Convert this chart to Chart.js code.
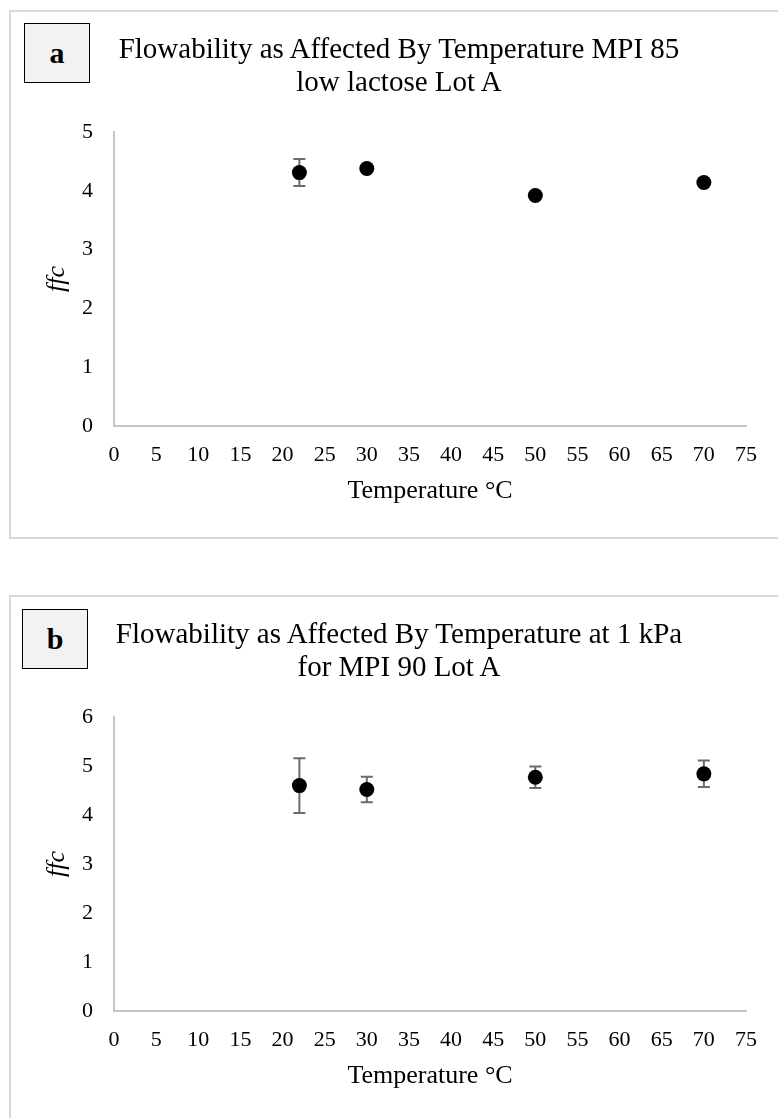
<!DOCTYPE html>
<html>
<head>
<meta charset="utf-8">
<script src="https://cdn.jsdelivr.net/npm/chart.js@4.4.1/dist/chart.umd.min.js"></script>
<style>
  html, body { margin: 0; padding: 0; background: #fff; width: 778px; height: 1118px; overflow: hidden; }
  body { position: relative; font-family: "Liberation Serif", "Times New Roman", serif; color: #000; }
  .panel { position: absolute; left: 9px; width: 820px; border: 2px solid #d9d9d9; box-sizing: border-box; }
  .tag { position: absolute; width: 66px; height: 60px; box-sizing: border-box; border: 1.5px solid #000;
         background: #f2f2f2; font-weight: bold; font-size: 30px; display: flex; align-items: center; justify-content: center; }
  .title { position: absolute; left: 49px; width: 700px; text-align: center; font-size: 29px; line-height: 33px; white-space: nowrap; }
  canvas { position: absolute; left: 0; }
</style>
</head>
<body>
<div class="panel" style="top:10px;height:529px;"></div>
<div class="panel" style="top:595px;height:560px;"></div>

<canvas id="chartA" width="778" height="585" style="top:0px;"></canvas>
<canvas id="chartB" width="778" height="585" style="top:585px;"></canvas>

<div class="tag" style="left:24px;top:23px;">a</div>
<div class="title" style="top:32px;">Flowability as Affected By Temperature MPI 85<br>low lactose Lot A</div>

<div class="tag" style="left:22px;top:609px;">b</div>
<div class="title" style="top:617px;">Flowability as Affected By Temperature at 1 kPa<br>for MPI 90 Lot A</div>

<script>
// Panel a: MPI 85 low lactose Lot A
const tempA = [22, 30, 50, 70];
const ffcA = [4.31, 4.38, 3.92, 4.14];
const errA = [0.23, 0, 0, 0];

// Panel b: MPI 90 Lot A at 1 kPa
const tempB = [22, 30, 50, 70];
const ffcB = [4.60, 4.52, 4.77, 4.84];
const errB = [0.56, 0.26, 0.22, 0.27];

const xMax = 75;
const xStep = 5;
const yMaxA = 5;
const yMaxB = 6;

const serif = '"Liberation Serif", "Times New Roman", serif';

// error bars drawn under the markers
const errorBars = {
    id: 'errorBars',
    beforeDatasetsDraw(chart, args, opts) {
        const { ctx, scales: { x, y } } = chart;
        const errs = opts.errors || [];
        ctx.save();
        ctx.strokeStyle = '#6b6b6b';
        ctx.lineWidth = 2;
        chart.data.datasets[0].data.forEach((p, i) => {
            const e = errs[i];
            if (!e) return;
            const px = x.getPixelForValue(p.x);
            const top = y.getPixelForValue(p.y + e);
            const bot = y.getPixelForValue(p.y - e);
            ctx.beginPath();
            ctx.moveTo(px, top); ctx.lineTo(px, bot);
            ctx.moveTo(px - 6, top); ctx.lineTo(px + 6, top);
            ctx.moveTo(px - 6, bot); ctx.lineTo(px + 6, bot);
            ctx.stroke();
        });
        ctx.restore();
    }
};

function makePanel(id, temps, values, errors, yMax) {
    const ctx = document.getElementById(id).getContext('2d');
    return new Chart(ctx, {
        type: 'scatter',
        data: {
            datasets: [{
                data: temps.map((t, i) => ({ x: t, y: values[i] })),
                pointRadius: 7.5,
                pointBackgroundColor: '#000',
                pointBorderWidth: 0,
                showLine: false
            }]
        },
        options: {
            responsive: false,
            animation: false,
            layout: { padding: { left: 0, top: 132, right: 32, bottom: 69 } },
            plugins: {
                legend: { display: false },
                tooltip: { enabled: false },
                errorBars: { errors: errors }
            },
            scales: {
                x: {
                    type: 'linear',
                    min: 0,
                    max: xMax,
                    afterFit: (s) => { s.height = 90; },
                    grid: { display: false, drawTicks: false },
                    border: { display: true, color: '#c6c6c6', width: 2 },
                    ticks: { stepSize: xStep, padding: 16, color: '#000', font: { family: serif, size: 22 } },
                    title: { display: true, text: 'Temperature °C', color: '#000', padding: { top: 0, bottom: 9 },
                             font: { family: serif, size: 26 } }
                },
                y: {
                    min: 0,
                    max: yMax,
                    afterFit: (s) => { s.width = 114; },
                    grid: { display: false, drawTicks: false },
                    border: { display: true, color: '#c6c6c6', width: 2 },
                    ticks: { stepSize: 1, padding: 21, color: '#000', font: { family: serif, size: 22 } },
                    title: { display: true, text: 'ffc', color: '#000', padding: { top: 42, bottom: 0 },
                             font: { family: serif, size: 26, style: 'italic' } }
                }
            }
        },
        plugins: [errorBars]
    });
}

makePanel('chartA', tempA, ffcA, errA, yMaxA);
makePanel('chartB', tempB, ffcB, errB, yMaxB);
</script>
</body>
</html>
